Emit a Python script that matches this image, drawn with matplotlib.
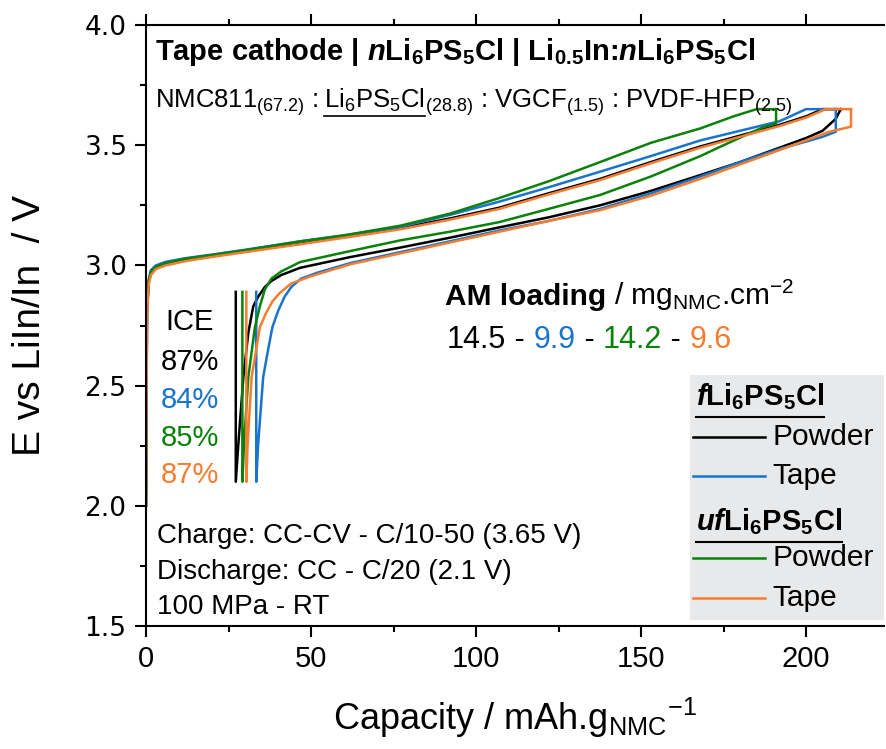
import numpy as np
import matplotlib
matplotlib.use('Agg')
import matplotlib.pyplot as plt
from matplotlib.patches import Rectangle
from matplotlib.ticker import MultipleLocator, FormatStrFormatter

plt.rcParams['font.family'] = ['Liberation Sans', 'DejaVu Sans']
plt.rcParams['mathtext.fontset'] = 'custom'
plt.rcParams['mathtext.rm'] = 'Liberation Sans'
plt.rcParams['mathtext.it'] = 'Liberation Sans:bold:italic'
plt.rcParams['mathtext.bf'] = 'Liberation Sans:bold'
plt.rcParams['mathtext.default'] = 'regular'

# colours of the four cells
c_black = '#000000'
c_blue = '#1874CD'
c_green = '#0A820A'
c_orange = '#F47D30'

# charge curves (capacity, voltage)
q_ch_black = [0, 0.3, 0.8, 1.5, 3, 6, 12, 20, 30, 46.7, 60, 77, 92, 107, 122, 137.6, 153, 168, 180, 192, 200, 205, 210.5]
v_ch_black = [2.00, 2.80, 2.93, 2.97, 2.995, 3.01, 3.025, 3.04, 3.06, 3.09, 3.12, 3.155, 3.195, 3.24, 3.30, 3.36, 3.43, 3.495, 3.54, 3.585, 3.62, 3.65, 3.65]
q_ch_blue = [0, 0.3, 0.8, 1.5, 3, 6, 12, 20, 30, 46.7, 60, 77, 92, 107, 122, 137.6, 153, 168, 180, 192, 200, 209]
v_ch_blue = [2.00, 2.82, 2.94, 2.98, 3.00, 3.015, 3.03, 3.045, 3.065, 3.10, 3.125, 3.16, 3.21, 3.265, 3.325, 3.39, 3.455, 3.52, 3.56, 3.60, 3.65, 3.65]
q_ch_green = [0, 0.3, 0.8, 1.5, 3, 6, 12, 20, 30, 46.7, 60, 77, 92, 107, 122, 137.6, 153, 168, 178, 185, 190.9]
v_ch_green = [2.00, 2.81, 2.935, 2.975, 2.995, 3.01, 3.028, 3.043, 3.063, 3.10, 3.125, 3.165, 3.215, 3.28, 3.35, 3.43, 3.51, 3.57, 3.62, 3.65, 3.65]
q_ch_orange = [0, 0.3, 0.8, 1.5, 3, 6, 12, 20, 30, 46.7, 60, 77, 92, 107, 122, 137.6, 153, 168, 180, 192, 200, 206, 213.6]
v_ch_orange = [2.00, 2.78, 2.92, 2.96, 2.985, 3.0, 3.018, 3.035, 3.055, 3.088, 3.115, 3.15, 3.19, 3.235, 3.295, 3.355, 3.425, 3.49, 3.535, 3.58, 3.615, 3.65, 3.65]

# discharge curves, running back from the end of charge, then the rest at 2.1 V
q_dis_black = [210.5, 209, 205, 200, 192, 180, 168, 153, 137.6, 122, 107, 92, 77, 62, 46.7, 41, 38, 36, 34, 32.5, 31, 29.5, 28, 27.2, 27.2]
v_dis_black = [3.65, 3.61, 3.56, 3.53, 3.49, 3.43, 3.376, 3.31, 3.25, 3.20, 3.158, 3.115, 3.074, 3.035, 2.99, 2.96, 2.935, 2.91, 2.87, 2.83, 2.72, 2.535, 2.26, 2.10, 2.89]
q_dis_blue = [209, 209, 205, 200, 192, 180, 168, 153, 137.6, 122, 107, 92, 77, 62, 52, 47, 44, 42, 40, 38.3, 37, 35.5, 34, 33.4, 33.4]
v_dis_blue = [3.65, 3.556, 3.535, 3.515, 3.485, 3.43, 3.37, 3.30, 3.235, 3.185, 3.145, 3.10, 3.055, 3.01, 2.97, 2.945, 2.91, 2.87, 2.81, 2.743, 2.65, 2.535, 2.26, 2.10, 2.89]
q_dis_green = [190.9, 190.9, 187, 183, 175, 168, 153, 137.6, 122, 107, 92, 77, 62, 46.7, 41, 38, 36, 34.5, 33, 31, 29.7, 29.2, 29.2]
v_dis_green = [3.65, 3.59, 3.575, 3.55, 3.50, 3.455, 3.37, 3.293, 3.235, 3.18, 3.14, 3.104, 3.06, 3.014, 2.975, 2.945, 2.90, 2.83, 2.743, 2.535, 2.26, 2.10, 2.89]
q_dis_orange = [213.6, 213.6, 207, 200, 192, 180, 168, 153, 137.6, 122, 107, 92, 77, 62, 50, 44, 40.5, 38.3, 36.3, 34.5, 32, 30.8, 30.4, 30.4]
v_dis_orange = [3.65, 3.577, 3.556, 3.52, 3.48, 3.42, 3.36, 3.29, 3.23, 3.185, 3.14, 3.095, 3.05, 3.005, 2.955, 2.925, 2.885, 2.85, 2.80, 2.743, 2.535, 2.26, 2.10, 2.89]

ice_labels = ['87%', '84%', '85%', '87%']
loadings = ['14.5', '9.9', '14.2', '9.6']
legend_labels = ['Powder', 'Tape', 'Powder', 'Tape']
colors = [c_black, c_blue, c_green, c_orange]

fig = plt.figure(figsize=(8.86, 7.49), dpi=100)
ax = fig.add_axes([146 / 886, 1 - 626 / 749, 738 / 886, 601 / 749])

curves = [(q_ch_black, v_ch_black, q_dis_black, v_dis_black),
          (q_ch_blue, v_ch_blue, q_dis_blue, v_dis_blue),
          (q_ch_green, v_ch_green, q_dis_green, v_dis_green),
          (q_ch_orange, v_ch_orange, q_dis_orange, v_dis_orange)]
for (qc, vc, qd, vd), c in zip(curves, colors):
    ax.plot(qc, vc, color=c, lw=1.8)
    ax.plot(qd, vd, color=c, lw=1.8)

ax.set_xlim(0, 223.6)
ax.set_ylim(1.5, 4.0)
ax.xaxis.set_major_locator(MultipleLocator(50))
ax.xaxis.set_minor_locator(MultipleLocator(25))
ax.yaxis.set_major_locator(MultipleLocator(0.5))
ax.yaxis.set_minor_locator(MultipleLocator(0.25))
ax.yaxis.set_major_formatter(FormatStrFormatter('%.1f'))
ax.tick_params(which='both', direction='out', width=1.5, top=True)
ax.tick_params(which='major', length=8)
ax.tick_params(which='minor', length=4.5)
ax.tick_params(axis='x', labelsize=21, pad=6)
ax.tick_params(axis='y', labelsize=19, pad=6)
for lab in ax.get_yticklabels():
    lab.set_family('DejaVu Sans')
ax.spines['right'].set_visible(False)
for s in ['left', 'bottom', 'top']:
    ax.spines[s].set_linewidth(1.5)

ax.set_xlabel('Capacity / mAh.g$_{NMC}$$^{-1}$', fontsize=26, labelpad=16)
ax.set_ylabel('E vs LiIn/In  / V', fontsize=28, labelpad=26)

# headline
ax.text(2.7, 3.854, r'Tape cathode | $\mathit{n}$Li$_6$PS$_5$Cl | Li$_{0.5}$In:$\mathit{n}$Li$_6$PS$_5$Cl',
        fontsize=21, fontweight='bold', va='baseline')

fig.canvas.draw()
renderer = fig.canvas.get_renderer()


def data_box(t):
    return t.get_window_extent(renderer).transformed(ax.transData.inverted())


# composition line, in pieces so the electrolyte can be underlined
pieces = ['NMC811$_{(67.2)}$ :', 'Li$_6$PS$_5$Cl', '$_{(28.8)}$ : VGCF$_{(1.5)}$ : PVDF-HFP$_{(2.5)}$']
t = ax.text(2.7, 3.655, pieces[0], fontsize=18.5, va='baseline')
t2 = ax.text(data_box(t).x1 + 1.8, 3.655, pieces[1], fontsize=18.5, va='baseline')
bb2 = data_box(t2)
ax.plot([bb2.x0, bb2.x1], [3.62, 3.62], color='black', lw=1.2)
ax.text(bb2.x1, 3.655, pieces[2], fontsize=18.5, va='baseline')

# AM loading
t = ax.text(90.6, 2.835, 'AM loading', fontsize=21.5, fontweight='bold', va='baseline')
ax.text(data_box(t).x1, 2.835, ' / mg$_{NMC}$.cm$^{-2}$', fontsize=21.5, va='baseline')
x_cur = 91.2
for i, (lab, c) in enumerate(zip(loadings, colors)):
    parts = [(lab, c)]
    if i < len(loadings) - 1:
        parts.append((' - ', 'black'))
    for p, pc in parts:
        tt = ax.text(x_cur, 2.656, p, fontsize=22, color=pc, va='baseline')
        x_cur = data_box(tt).x1

# ICE column
ax.text(13.3, 2.73, 'ICE', fontsize=21, ha='center', va='baseline')
for lab, c, yy in zip(ice_labels, colors, [2.564, 2.406, 2.248, 2.094]):
    ax.text(13.3, yy, lab, fontsize=21, color=c, ha='center', va='baseline')

# cycling conditions
for s, yy in zip(['Charge: CC-CV - C/10-50 (3.65 V)', 'Discharge: CC - C/20 (2.1 V)', '100 MPa - RT'],
                 [1.844, 1.695, 1.549]):
    ax.text(3.3, yy, s, fontsize=20, va='baseline')

# legend box
ax.add_patch(Rectangle((164.8, 1.524), 58.8, 1.02, facecolor='#E8E9EB', edgecolor='none', zorder=1))
headers = [(r'$\mathit{f}$Li$_6$PS$_5$Cl', 2.419), (r'$\mathit{uf}$Li$_6$PS$_5$Cl', 1.90)]
for h, yy in headers:
    th = ax.text(166.5, yy, h, fontsize=21, fontweight='bold', va='baseline', zorder=3)
    bb = data_box(th)
    ax.plot([bb.x0, bb.x1], [yy - 0.05, yy - 0.05], color='black', lw=1.5, zorder=3)
for lab, c, yy in zip(legend_labels, colors, [2.285, 2.123, 1.782, 1.616]):
    ax.plot([165.8, 187.6], [yy, yy], color=c, lw=1.8, zorder=3)
    ax.text(189.8, yy, lab, fontsize=21.5, va='center', zorder=3)

fig.savefig('out.png', dpi=100)
